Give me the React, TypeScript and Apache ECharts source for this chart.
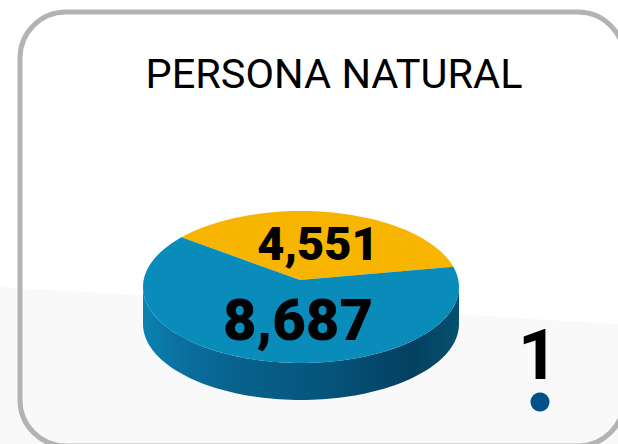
import React, { useEffect, useRef } from "react";
import * as echarts from "echarts";

const categories = ["Amarillo", "Azul"];
const sliceValues = [4551, 8687];
const sliceColors = ["#f7b500", "#0a8cba"];
const titleText = "PERSONA NATURAL";
const rankText = "1";

const W = 618;
const H = 444;
const PIE = { cx: 301, cy: 287, rx: 158, ry: 76, depth: 37, apexX: 300, apexY: 280, startAngle: 15.4 };
const LABELS = [
  { x: 318, y: 243, size: 47 },
  { x: 298, y: 320, size: 58 },
];

const point = (deg: number, dy = 0) => {
  const r = (deg * Math.PI) / 180;
  return [PIE.cx + PIE.rx * Math.cos(r), PIE.cy - PIE.ry * Math.sin(r) + dy];
};

const arc = (from: number, to: number, dy = 0) => {
  const pts: number[][] = [];
  const n = Math.max(2, Math.ceil(Math.abs(to - from) / 2));
  for (let i = 0; i <= n; i++) pts.push(point(from + ((to - from) * i) / n, dy));
  return pts;
};

export default function App() {
  const ref = useRef<HTMLDivElement>(null);
  useEffect(() => {
    document.body.style.margin = "0";
    document.body.style.overflow = "hidden";
    const chart = echarts.init(ref.current!, undefined, { renderer: "svg", width: W, height: H });
    const total = sliceValues.reduce((a, b) => a + b, 0);
    const bounds: number[][] = [];
    let acc = PIE.startAngle;
    sliceValues.forEach((v) => {
      const next = acc + (v / total) * 360;
      bounds.push([acc, next]);
      acc = next;
    });

    const sideFill = new echarts.graphic.LinearGradient(0, 0, 1, 0, [
      { offset: 0, color: "#0b82b0" },
      { offset: 0.12, color: "#0a70a0" },
      { offset: 0.3, color: "#07628c" },
      { offset: 0.6, color: "#06527a" },
      { offset: 0.85, color: "#044060" },
      { offset: 1, color: "#06506f" },
    ]);

    chart.setOption({
      animation: false,
      backgroundColor: "#ffffff",
      title: {
        text: titleText,
        left: 329,
        top: 47.5,
        textAlign: "center",
        textStyle: { fontFamily: "Roboto", fontSize: 41.5, fontWeight: 400, color: "#000000" },
      },
      graphic: [
        {
          type: "polygon",
          z: 0,
          silent: true,
          shape: { points: [[0, 287], [618, 324], [618, 444], [0, 444]] },
          style: { fill: "#f9f9fa" },
        },
        {
          type: "rect",
          z: 1,
          silent: true,
          shape: { x: 20, y: 12, width: 604, height: 434, r: 46 },
          style: { fill: "transparent", stroke: "#b3b3b3", lineWidth: 5 },
        },
        {
          type: "text",
          z: 10,
          x: 538,
          y: 355,
          style: {
            text: rankText,
            fontFamily: "Roboto",
            fontSize: 70,
            fontWeight: 700,
            fill: "#000000",
            textAlign: "center",
            textVerticalAlign: "middle",
          },
        },
        {
          type: "circle",
          z: 10,
          silent: true,
          shape: { cx: 540, cy: 402, r: 9.5 },
          style: { fill: "#005189" },
        },
      ],
      series: [
        {
          type: "custom",
          coordinateSystem: "none",
          silent: true,
          z: 5,
          data: categories.map((name, i) => ({ name, value: sliceValues[i] })),
          renderItem: (params: any, api: any) => {
            const i = params.dataIndex;
            const [a0, a1] = bounds[i];
            const children: any[] = [];
            [0, 360].forEach((shift) => {
              const lo = Math.max(a0, 180 + shift);
              const hi = Math.min(a1, 360 + shift);
              if (hi > lo) {
                children.push({
                  type: "polygon",
                  shape: { points: [...arc(lo, hi, 0), ...arc(hi, lo, PIE.depth)] },
                  style: { fill: sideFill },
                });
              }
            });
            children.push({
              type: "polygon",
              shape: { points: [[PIE.apexX, PIE.apexY], ...arc(a0, a1)] },
              style: { fill: sliceColors[i] },
            });
            const lab = LABELS[i];
            children.push({
              type: "text",
              z2: 20,
              x: lab.x,
              y: lab.y,
              style: {
                text: Number(api.value(0) || sliceValues[i]).toLocaleString("en-US"),
                fontFamily: "Roboto",
                fontSize: lab.size,
                fontWeight: 900,
                fill: "#000000",
                textAlign: "center",
                textVerticalAlign: "middle",
              },
            });
            return { type: "group", children };
          },
        },
      ],
    });
    return () => chart.dispose();
  }, []);
  return <div ref={ref} style={{ width: W, height: H, position: "absolute", left: 0, top: 0 }} />;
}
